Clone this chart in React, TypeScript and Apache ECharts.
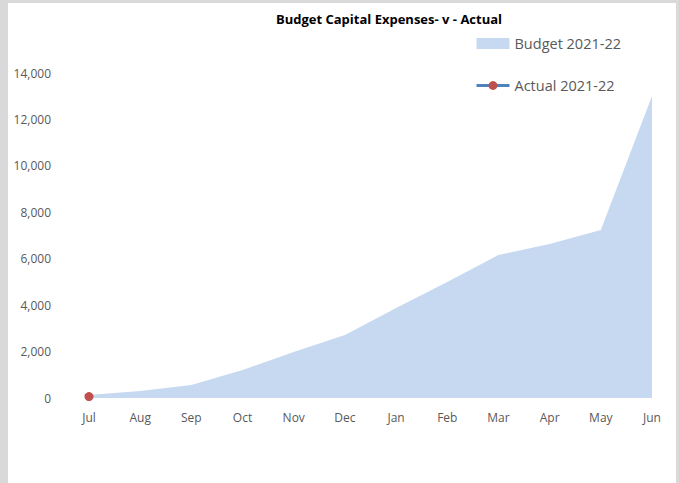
import React, { useEffect, useRef } from "react";
import * as echarts from "echarts";

const months = ["Jul", "Aug", "Sep", "Oct", "Nov", "Dec", "Jan", "Feb", "Mar", "Apr", "May", "Jun"];
const budget = [130, 300, 560, 1210, 1980, 2710, 3880, 5000, 6160, 6630, 7240, 13010];
const actual: (number | null)[] = [60, null, null, null, null, null, null, null, null, null, null, null];
const titleText = "Budget Capital Expenses- v - Actual";
const budgetName = "Budget 2021-22";
const actualName = "Actual 2021-22";

export default function App() {
  const ref = useRef<HTMLDivElement>(null);
  useEffect(() => {
    if (!ref.current) return;
    const chart = echarts.init(ref.current, undefined, { renderer: "svg" });
    const font = "'Open Sans', 'Liberation Sans', sans-serif";
    chart.setOption({
      animation: false,
      backgroundColor: "transparent",
      textStyle: { fontFamily: font },
      title: {
        text: titleText,
        left: 384,
        textAlign: "center",
        top: 7,
        textStyle: { fontSize: 13, fontWeight: "bold", color: "#000", fontFamily: font },
      },
      legend: {
        orient: "vertical",
        left: 475,
        top: 36,
        padding: 0,
        itemGap: 27,
        itemWidth: 33,
        itemHeight: 11,
        textStyle: { fontSize: 14.5, color: "#595959", fontFamily: font },
        data: [
          { name: budgetName, icon: "rect" },
          { name: actualName, lineStyle: { width: 3, color: "#4f81bd" } },
        ],
      },
      grid: { left: 89, right: 27, top: 73, bottom: 85 },
      xAxis: {
        type: "category",
        data: months,
        boundaryGap: false,
        axisLine: { show: false },
        axisTick: { show: false },
        axisLabel: { color: "#595959", fontSize: 12, margin: 13, fontFamily: font },
      },
      yAxis: {
        type: "value",
        min: 0,
        max: 14000,
        interval: 2000,
        splitLine: { show: false },
        axisLine: { show: false },
        axisTick: { show: false },
        axisLabel: {
          color: "#595959",
          fontSize: 12,
          margin: 38,
          fontFamily: font,
          formatter: (v: number) => v.toLocaleString("en-US"),
        },
      },
      series: [
        {
          name: budgetName,
          type: "line",
          data: budget,
          showSymbol: false,
          symbol: "none",
          lineStyle: { width: 0, color: "#c6d9f1" },
          itemStyle: { color: "#c6d9f1" },
          areaStyle: { color: "#c6d9f1", opacity: 1 },
          z: 1,
        },
        {
          name: actualName,
          type: "line",
          data: actual,
          symbol: "circle",
          symbolSize: 9,
          showSymbol: true,
          lineStyle: { width: 3, color: "#4f81bd" },
          itemStyle: { color: "#c0504d" },
          z: 3,
        },
      ],
    });
    return () => chart.dispose();
  }, []);
  return (
    <div style={{ position: "absolute", left: 0, top: 0, width: 679, height: 483, background: "#d9d9d9" }}>
      <div style={{ position: "absolute", left: 8, top: 3, width: 668, height: 480, background: "#ffffff" }} />
      <div ref={ref} style={{ position: "absolute", left: 0, top: 0, width: 679, height: 483 }} />
    </div>
  );
}
